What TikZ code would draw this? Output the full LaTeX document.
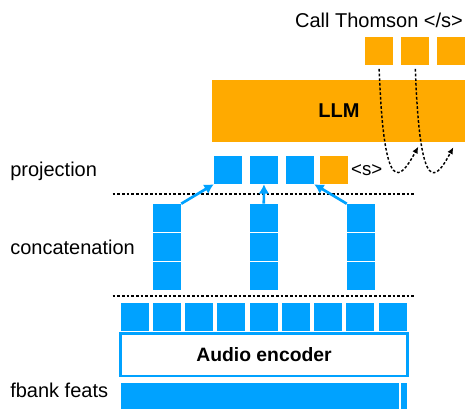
\documentclass[tikz,border=0pt]{standalone}
\usepackage{fontspec}
\setmainfont{Liberation Sans}
\usetikzlibrary{positioning, calc, arrows.meta}
\definecolor{keyblue}{RGB}{0,162,255}
\definecolor{keyorange}{RGB}{255,170,0}

\begin{document}
\begin{tikzpicture}[x=0.75pt, y=-0.75pt,
	font=\fontsize{15}{18}\selectfont,
	bluesq/.style={fill=keyblue, inner sep=0pt, minimum size=21pt},
	orangesq/.style={fill=keyorange, inner sep=0pt, minimum size=21pt},
	sep/.style={line width=0.8pt, dash pattern=on 2pt off 1.5pt},
	proj/.style={keyblue, line width=2pt, -{Latex[length=7pt, width=8pt]}},
	feedback/.style={line width=1.1pt, dash pattern=on 2pt off 1.5pt,
		-{Latex[length=5pt, width=4.5pt]}, shorten <=3pt}]
	\def \pitch {32.25}

	\useasboundingbox (0,0) rectangle (465,409);

	% labels on the left
	\node[anchor=west, inner sep=0pt] (projlabel)  at (10,171.7) {projection};
	\node[anchor=west, inner sep=0pt] (concatlabel) at (10,247.7) {concatenation};
	\node[anchor=west, inner sep=0pt] (fbanklabel) at (10,390) {fbank feats};

	% fbank features and encoder
	\node[fill=keyblue, inner sep=0pt, minimum width=208.7pt, minimum height=20pt,
		anchor=north west] (fbank) at (120.7,383) {};
	\node[fill=keyblue, inner sep=0pt, minimum width=4.3pt, minimum height=20pt,
		anchor=north west] (fbanklast) at (401,383) {};
	\node[draw=keyblue, line width=2pt, inner sep=0pt, minimum width=215pt,
		minimum height=32pt, font=\fontsize{14.5}{17}\selectfont\bfseries]
		(encoder) at (264,354.7) {Audio encoder};
	\foreach \i in {0,...,8}
		\node[bluesq] (enc\i) at ({134.7+\pitch*\i},316.7) {};

	% dashed separators
	\coordinate (sepla) at (112.7,296);
	\coordinate (seplb) at (414.7,296);
	\coordinate (sepua) at (112.7,194);
	\coordinate (sepub) at (414.7,194);
	\draw[sep] (sepla) -- (seplb);
	\draw[sep] (sepua) -- (sepub);

	% concatenated frames
	\foreach \c/\x in {a/167, b/263.8, c/361}
		\foreach \r/\y in {1/218, 2/247, 3/276}
			\node[bluesq] (cat\c\r) at (\x,\y) {};

	% projection
	\node[bluesq] (proj1) at (228,170) {};
	\node[bluesq] (proj2) at (264,170) {};
	\node[bluesq] (proj3) at (300,170) {};
	\node[orangesq] (start) at (334,170) {};
	\node[right=1pt of start, inner sep=1pt, font=\fontsize{14}{17}\selectfont]
		(startlabel) {<s>};

	\draw[proj] (cata1.north east) -- (proj1.south west);
	\draw[proj] (catb1.north) -- (proj2.south);
	\draw[proj] (catc1.north west) -- (proj3.south east);

	% LLM and outputs
	\node[fill=keyorange, inner sep=0pt, minimum width=190.5pt, minimum height=46.3pt,
		font=\fontsize{15}{18}\selectfont\bfseries] (llm) at (339,110.85) {LLM};
	\node[orangesq] (out1) at (379,50.7) {};
	\node[orangesq] (out2) at (415.2,50.7) {};
	\node[orangesq] (out3) at (451.2,50.7) {};
	\node (outlabel) at (379,20) {Call Thomson </s>};

	\coordinate (tipa) at (418.3,146.7);
	\coordinate (tipb) at (453.3,147.3);
	\draw[feedback] (out1.south) .. controls (384,200) and (400,180) .. (tipa);
	\draw[feedback] (out2.south) .. controls (420,200) and (436,180) .. (tipb);
\end{tikzpicture}
\end{document}
